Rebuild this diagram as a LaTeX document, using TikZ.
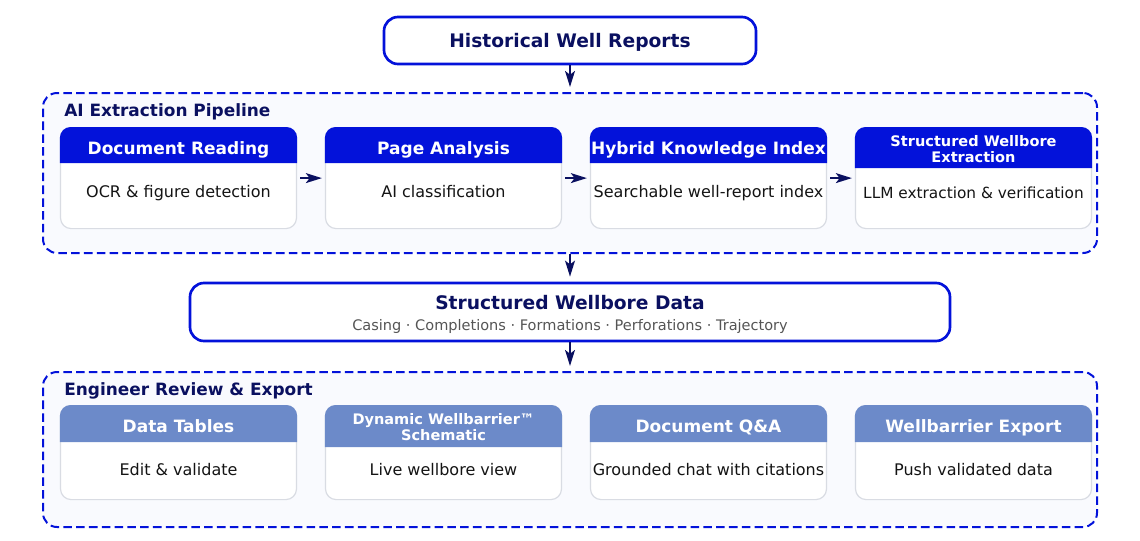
\documentclass[tikz,border=0pt]{standalone}
\usepackage{fontspec}
\setmainfont{DejaVu Sans}
\usetikzlibrary{arrows.meta}

\definecolor{wellblue}{HTML}{0312DA}
\definecolor{wellnavy}{HTML}{0A1060}
\definecolor{wellsoft}{HTML}{6C8AC9}
\definecolor{wellpale}{HTML}{F9FAFE}
\definecolor{wellgrey}{HTML}{D9DCE3}
\definecolor{wellsub}{HTML}{555555}

\tikzset{
    mainbox/.style={draw=wellblue, line width=2pt, fill=white, rounded corners=10.5pt, inner sep=0pt},
    groupbox/.style={draw=wellblue, line width=1.5pt, fill=wellpale, rounded corners=10.5pt, inner sep=0pt,
        dash pattern=on 6.4pt off 3.2pt},
    cardbox/.style={draw=wellgrey, line width=0.9pt, fill=white, rounded corners=8pt, inner sep=0pt,
        minimum width=177pt},
    flow/.style={draw=wellnavy, line width=1.5pt, -{Stealth[length=12pt, width=7.4pt, inset=2.8pt]}},
    flowdown/.style={flow, shorten >=3.75pt},
    flowside/.style={flow, shorten <=2.25pt, shorten >=2.25pt},
    mainlabel/.style={text=wellnavy, font=\bfseries\fontsize{14pt}{17pt}\selectfont, anchor=base, inner sep=0pt},
    sublabel/.style={text=wellsub, font=\fontsize{10.9pt}{13pt}\selectfont, anchor=base, inner sep=0pt},
    grouplabel/.style={text=wellnavy, font=\bfseries\fontsize{12.7pt}{15pt}\selectfont, anchor=base west, inner sep=0pt},
    headlabel/.style={text=white, font=\bfseries\fontsize{12.75pt}{15pt}\selectfont, align=center, anchor=base, inner sep=0pt},
    headsmall/.style={headlabel, font=\bfseries\fontsize{10.9pt}{11.4pt}\selectfont, yshift=-6pt},
    bodylabel/.style={text=black!92, font=\fontsize{12pt}{14pt}\selectfont, anchor=base, inner sep=0pt},
    bodysmall/.style={bodylabel, font=\fontsize{11.5pt}{14pt}\selectfont, yshift=-1.1pt},
}

% name, top centre, height, header height, colour, header style, header, body style, body
\newcommand{\wellcard}[9]{
    \node[cardbox, minimum height=#3*0.75pt, anchor=north] (#1) at #2 {};
    \fill[#5] ([yshift=-#4*0.75pt]#1.north west) [rounded corners=8pt] -- (#1.north west) -- (#1.north east)
        [sharp corners] -- ([yshift=-#4*0.75pt]#1.north east) -- cycle;
    \node[#6] (#1head) at ([yshift=-20.25pt]#1.north) {#7};
    \node[#8] (#1text) at ([yshift=-52.6pt]#1.north) {#9};
}

\begin{document}
\begin{tikzpicture}[x=0.75pt, y=-0.75pt]

    \useasboundingbox (0,0) rectangle (1140,540);

    % Draw the two groups
    \node[groupbox, minimum width=790.5pt, minimum height=120pt] (pipeline) at (570,173) {};
    \node[groupbox, minimum width=790.5pt, minimum height=116.25pt] (review) at (570,449.5) {};
    \node[grouplabel] (pipelinetitle) at (64,116.5) {AI Extraction Pipeline};
    \node[grouplabel] (reviewtitle) at (64,395) {Engineer Review \& Export};

    % Draw the main boxes
    \node[mainbox, minimum width=279pt, minimum height=35.25pt] (reports) at (570,40.5) {};
    \node[mainlabel] (reportstext) at (570,47) {Historical Well Reports};
    \node[mainbox, minimum width=570pt, minimum height=43.5pt] (data) at (570,312) {};
    \node[mainlabel] (datatext) at (570,309) {Structured Wellbore Data};
    \node[sublabel] (datasub) at (570,330.7) {Casing · Completions · Formations · Perforations · Trajectory};

    % Draw cards (top)
    \wellcard{reading}{(178.5,127)}{101}{36}{wellblue}{headlabel}{Document Reading}{bodylabel}{OCR \& figure detection}
    \wellcard{analysis}{(443.5,127)}{101}{36}{wellblue}{headlabel}{Page Analysis}{bodylabel}{AI classification}
    \wellcard{index}{(708.5,127)}{101}{36}{wellblue}{headlabel}{Hybrid Knowledge Index}{bodylabel}{Searchable well-report index}
    \wellcard{extract}{(973.5,127)}{101}{41}{wellblue}{headsmall}{Structured Wellbore\\Extraction}{bodysmall}{LLM extraction \& verification}

    % Draw cards (bottom)
    \wellcard{tables}{(178.5,405)}{94}{37}{wellsoft}{headlabel}{Data Tables}{bodylabel}{Edit \& validate}
    \wellcard{schematic}{(443.5,405)}{94}{42}{wellsoft}{headsmall}{Dynamic Wellbarrier™\\Schematic}{bodylabel}{Live wellbore view}
    \wellcard{qa}{(708.5,405)}{94}{37}{wellsoft}{headlabel}{Document Q\&A}{bodylabel}{Grounded chat with citations}
    \wellcard{export}{(973.5,405)}{94}{37}{wellsoft}{headlabel}{Wellbarrier Export}{bodylabel}{Push validated data}

    % Draw the arrows
    \draw[flowdown] (reports) -- (pipeline);
    \draw[flowdown] (pipeline) -- (data);
    \draw[flowdown] (data) -- (review);
    \draw[flowside] (reading) -- (analysis);
    \draw[flowside] (analysis) -- (index);
    \draw[flowside] (index) -- (extract);

\end{tikzpicture}
\end{document}
